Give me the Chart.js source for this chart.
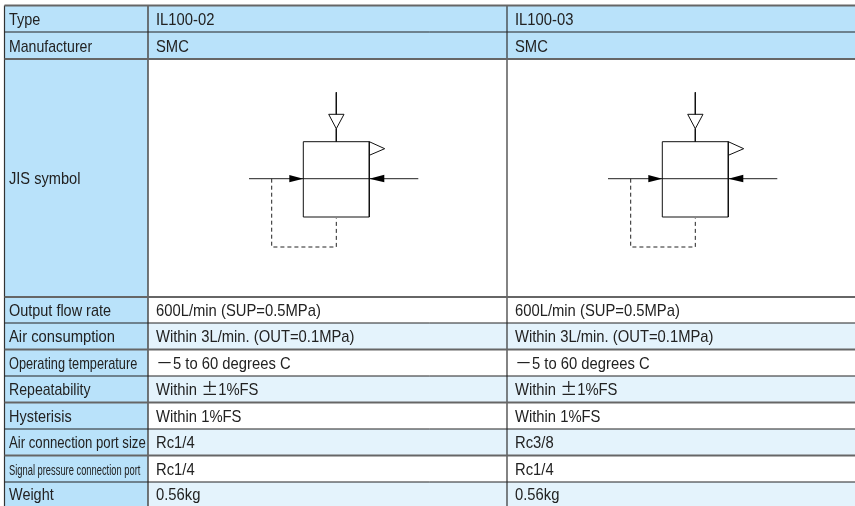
<!DOCTYPE html>
<html>
<head>
<meta charset="utf-8">
<title>IL100 spec table</title>
<script src="https://cdn.jsdelivr.net/npm/chart.js@4"></script>
<style>
body { margin: 0; background: #fff; }
canvas { display: block; }
</style>
</head>
<body>
<canvas id="myChart" width="855" height="506"></canvas>
<script>
var rowLabels = ["Type", "Manufacturer", "JIS symbol", "Output flow rate", "Air consumption", "Operating temperature", "Repeatability", "Hysterisis", "Air connection port size", "Signal pressure connection port", "Weight"];
var modelA = ["IL100-02", "SMC", "", "600L/min (SUP=0.5MPa)", "Within 3L/min. (OUT=0.1MPa)", "－5 to 60 degrees C", "Within ±1%FS", "Within 1%FS", "Rc1/4", "Rc1/4", "0.56kg"];
var modelB = ["IL100-03", "SMC", "", "600L/min (SUP=0.5MPa)", "Within 3L/min. (OUT=0.1MPa)", "－5 to 60 degrees C", "Within ±1%FS", "Within 1%FS", "Rc3/8", "Rc1/4", "0.56kg"];

// table grid
var rowEdges = [5.5, 32, 59, 297, 323, 349.5, 376, 402.5, 429, 455.5, 482, 506];
var colEdges = [4.5, 148, 507, 855];
var rowShade = ["#b9e2fa", "#b9e2fa", "#fff", "#fff", "#e4f3fc", "#fff", "#e4f3fc", "#fff", "#e4f3fc", "#fff", "#e4f3fc"];
var labelShade = "#b9e2fa";
var heavyRows = [0, 2, 3, 5, 7, 9];

// JIS symbol drawing, origin is the first column
var symbolOffsets = [0, 359];
var supplyLine = [[336.3, 92.3], [336.3, 114.3]];
var supplyStem = [[336.3, 128.7], [336.3, 141.7]];
var supplyTri = [[328.7, 114.3], [344, 114.3], [336.3, 128.7], [328.7, 114.3]];
var valveBox = [[303.3, 141.7], [369.3, 141.7], [369.3, 217], [303.3, 217], [303.3, 141.7]];
var flag = [[369.3, 141.7], [384.7, 148.7], [369.3, 155.3]];
var mainLine = [[249, 178.7], [418.3, 178.7]];
var arrowIn = [[289.3, 175], [303.3, 178.7], [289.3, 182.3], [289.3, 175]];
var arrowOut = [[369.3, 178.7], [384.3, 174.7], [384.3, 182.3], [369.3, 178.7]];
var pilot = [[271.7, 178.7], [271.7, 247], [336.3, 247], [336.3, 218.3]];

function pts(list, dx) {
    return list.map(function (p) { return { x: p[0] + (dx || 0), y: p[1] }; });
}

function lineSet(list, color, width, order, dash) {
    return { data: list, showLine: true, borderColor: color, borderWidth: width, borderDash: dash || [], pointRadius: 0, fill: false, order: order, tension: 0, clip: false };
}

function shapeSet(list, color, order) {
    return { data: list, showLine: true, borderWidth: 0, borderColor: color, backgroundColor: color, pointRadius: 0, fill: "shape", order: order, tension: 0, clip: false };
}

var datasets = [];

for (var r = 0; r < rowLabels.length; r++) {
    var rowTop = rowEdges[r], rowBot = rowEdges[r + 1];
    datasets.push(shapeSet(pts([[colEdges[0], rowTop], [colEdges[1], rowTop], [colEdges[1], rowBot], [colEdges[0], rowBot], [colEdges[0], rowTop]]), labelShade, 5));
    datasets.push(shapeSet(pts([[colEdges[1], rowTop], [colEdges[3], rowTop], [colEdges[3], rowBot], [colEdges[1], rowBot], [colEdges[1], rowTop]]), rowShade[r], 5));
    var heavy = heavyRows.indexOf(r) > -1;
    datasets.push(lineSet(pts([[colEdges[0], rowTop], [colEdges[3], rowTop]]), heavy ? "#666" : "#222", heavy ? 1.8 : 1, 3));
}
for (var c = 0; c < 3; c++) {
    datasets.push(lineSet(pts([[colEdges[c], rowEdges[0]], [colEdges[c], 506]]), c == 1 ? "#555" : "#333", c == 1 ? 1.6 : 1.2, 3));
}

symbolOffsets.forEach(function (dx) {
    datasets.push(lineSet(pts(supplyLine, dx), "#111", 1, 2));
    datasets.push(lineSet(pts(supplyStem, dx), "#111", 1, 2));
    datasets.push(lineSet(pts(supplyTri, dx), "#111", 1, 2));
    datasets.push(lineSet(pts(valveBox, dx), "#111", 1, 2));
    datasets.push(lineSet(pts(flag, dx), "#111", 1, 2));
    datasets.push(lineSet(pts(mainLine, dx), "#222", 1, 2));
    datasets.push(lineSet(pts(pilot, dx), "#222", 1, 2, [4, 3]));
    datasets.push(shapeSet(pts(arrowIn, dx), "#000", 1));
    datasets.push(shapeSet(pts(arrowOut, dx), "#000", 1));
});

// the reference face is condensed, no narrow font here so squeeze sideways
var squeeze = 0.87;
var labelSqueeze = { 0: 0.85, 1: 0.83, 2: 0.86, 3: 0.85, 4: 0.87, 5: 0.75, 6: 0.83, 7: 0.85, 8: 0.774, 9: 0.667, 10: 0.85 };
var labelSize = { 9: 14 };
var bodyFont = '"Liberation Sans"';

function squeezedText(ctx, text, x, y, sx) {
    ctx.save();
    ctx.translate(x, y);
    ctx.scale(sx, 1);
    ctx.fillText(text, 0, 0);
    ctx.restore();
}

function drawRun(ctx, text, x, y, size) {
    // the dash and plus-minus come from a wider Japanese face
    var parts = text.split(/([－±])/);
    parts.forEach(function (part) {
        if (!part) return;
        var wide = part == "－" || part == "±";
        ctx.font = size + "px " + (wide ? '"Noto Sans CJK JP"' : bodyFont);
        var sx = wide ? 1 : squeeze;
        squeezedText(ctx, part, x, y, sx);
        x += ctx.measureText(part).width * sx;
    });
}

var tableText = {
    id: "tableText",
    afterDatasetsDraw: function (chart) {
        var ctx = chart.ctx;
        var xs = chart.scales.x, ys = chart.scales.y;
        ctx.save();
        ctx.fillStyle = "#222";
        ctx.textBaseline = "alphabetic";
        for (var i = 0; i < rowLabels.length; i++) {
            var mid = ys.getPixelForValue((rowEdges[i] + rowEdges[i + 1]) / 2) + 6;
            ctx.font = (labelSize[i] || 17) + "px " + bodyFont;
            squeezedText(ctx, rowLabels[i], xs.getPixelForValue(9), mid, labelSqueeze[i]);
            drawRun(ctx, modelA[i], xs.getPixelForValue(156), mid, 17);
            drawRun(ctx, modelB[i], xs.getPixelForValue(515), mid, 17);
        }
        ctx.restore();
    }
};

var ctx = document.getElementById("myChart").getContext("2d");
var chart = new Chart(ctx, {
    type: "scatter",
    data: { datasets: datasets },
    options: {
        responsive: false,
        animation: false,
        layout: { padding: 0 },
        plugins: { legend: { display: false }, tooltip: { enabled: false } },
        scales: {
            x: { type: "linear", min: 0, max: 855, display: false },
            y: { type: "linear", min: 0, max: 506, reverse: true, display: false }
        }
    },
    plugins: [tableText]
});
</script>
</body>
</html>
